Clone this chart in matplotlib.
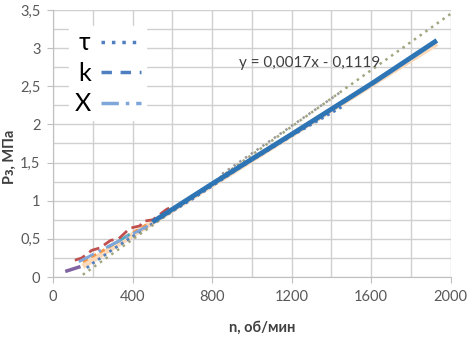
import matplotlib
matplotlib.use("Agg")
import matplotlib.pyplot as plt
import numpy as np

plt.rcParams['font.family'] = ['Lato', 'DejaVu Sans']

# ---- data ----
main_n = [500, 800, 1200, 1600, 1930]
main_p = [0.72, 1.22, 1.87, 2.53, 3.10]

halo_n = [150, 1930]
halo_p = [0.14, 3.06]

tau_n = [170, 200, 240, 300, 400, 500, 700, 950, 1200, 1460]
tau_p = [0.12, 0.18, 0.25, 0.36, 0.53, 0.70, 1.02, 1.45, 1.85, 2.24]

tau_trend_n = [150, 2000]
tau_trend_p = [0.03, 3.45]

upper_dot_n = [850, 1450]
upper_dot_p = [1.35, 2.43]

k_n = [110, 145, 195, 235, 290, 330, 387, 437, 452, 502, 573, 603]
k_p = [0.22, 0.25, 0.35, 0.38, 0.48, 0.50, 0.64, 0.67, 0.73, 0.75, 0.89, 0.92]

x_n = [130, 300, 500]
x_p = [0.20, 0.43, 0.70]

purple_n = [70, 130]
purple_p = [0.08, 0.13]

orange_n = [150, 260, 380, 480]
orange_p = [0.20, 0.36, 0.55, 0.70]

cyan_n = [280, 330, 380]
cyan_p = [0.40, 0.47, 0.55]

xticks = [0, 400, 800, 1200, 1600, 2000]
xticklabels = ['0', '400', '800', '1200', '1600', '2000']
yticks = [0, 0.5, 1, 1.5, 2, 2.5, 3, 3.5]
yticklabels = ['0', '0,5', '1', '1,5', '2', '2,5', '3', '3,5']

equation = 'y = 0,0017x - 0,1119'
xlabel = 'n, об/мин'
ylabel = 'Рз, МПа'
legend_labels = ['τ', 'k', 'X']

# ---- figure ----
fig = plt.figure(figsize=(4.73, 3.42), dpi=100)
ax = fig.add_axes([0.112, 0.19, 0.841, 0.781])

ax.set_xlim(0, 2000)
ax.set_ylim(0, 3.5)
ax.set_xticks(xticks)
ax.set_xticklabels(xticklabels)
ax.set_yticks(yticks)
ax.set_yticklabels(yticklabels)
ax.set_xticks(np.arange(0, 2001, 200), minor=True)
ax.set_yticks(np.arange(0, 3.51, 0.25), minor=True)
ax.grid(which='both', color='#d0d0d0', lw=1.0)
ax.tick_params(which='minor', length=0)
ax.tick_params(which='major', length=4, color='#bfbfbf', labelsize=10.5,
               labelcolor='#595959', pad=5)
ax.set_axisbelow(True)
for s in ['top', 'right']:
    ax.spines[s].set_visible(False)
for s in ['left', 'bottom']:
    ax.spines[s].set_color('#bfbfbf')

# series
ax.plot(halo_n, halo_p, color='#fcd9b8', lw=4, solid_capstyle='butt', zorder=2)
ax.plot(purple_n, purple_p, color='#8064a2', lw=2.5, zorder=3)
ax.plot(orange_n, orange_p, color='#f79646', lw=2, ls=(0, (2, 1.5)), zorder=3)
ax.plot(cyan_n, cyan_p, color='#4bacc6', lw=2, zorder=3)
ax.plot(tau_n, tau_p, color='#4f7fc0', lw=2, ls=(0, (1, 1.5)), zorder=3)
ax.plot(tau_trend_n, tau_trend_p, color='#a3a57e', lw=1.8, ls=(0, (1, 1.8)), zorder=4)
ax.plot(upper_dot_n, upper_dot_p, color='#9a9a9a', lw=1.8, ls=(0, (1, 1.8)), zorder=4)
ax.plot(k_n, k_p, color='#c0504d', lw=2, ls=(0, (4, 2)), zorder=3)
ax.plot(x_n, x_p, color='#7ea6d8', lw=2, ls=(0, (6, 2, 1, 2)), zorder=3)
ax.plot(main_n, main_p, color='#2e75b6', lw=3.5, solid_capstyle='butt', zorder=5)

ax.text(1290, 2.80, equation, fontsize=11, color='#404040', ha='center', va='center',
        zorder=6)

# legend handles styled as in reference
h_tau = plt.Line2D([], [], color='#4f7fc0', lw=2.5, ls=(0, (1, 2)))
h_k = plt.Line2D([], [], color='#4f7fc0', lw=2.5, ls=(0, (3, 2.5)))
h_x = plt.Line2D([], [], color='#7ea6d8', lw=2.5, ls=(0, (5, 2, 1, 2)))
ax.legend([h_tau, h_k, h_x], legend_labels, loc='upper left',
          bbox_to_anchor=(0.01, 0.985), markerfirst=False, fontsize=18,
          frameon=True, fancybox=False, edgecolor='white', facecolor='white',
          framealpha=1, handlelength=1.6, labelspacing=0.3, borderpad=0.2,
          handletextpad=0.4)

ax.set_xlabel(xlabel, fontsize=10.5, fontweight='bold', color='#404040')
ax.xaxis.set_label_coords(0.525, -0.165)
ax.set_ylabel(ylabel, fontsize=10.5, fontweight='bold', color='#404040')
ax.yaxis.set_label_coords(-0.09, 0.45)

fig.savefig('out.png', dpi=100)
